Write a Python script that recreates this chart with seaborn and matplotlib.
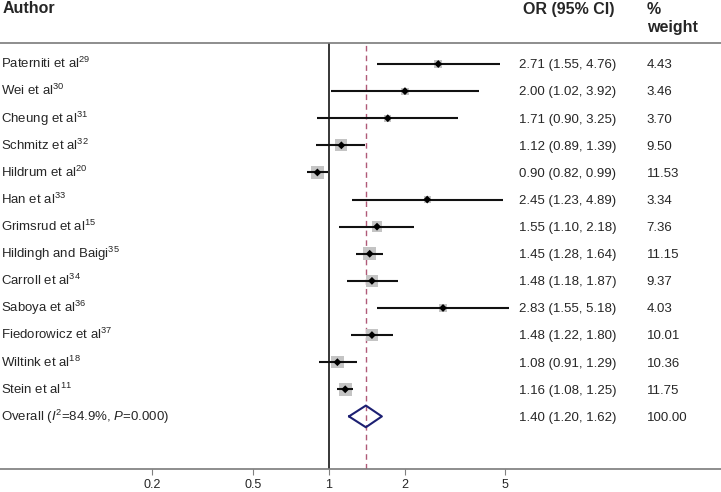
import numpy as np
import pandas as pd
import seaborn as sns
import matplotlib.pyplot as plt
from matplotlib.transforms import blended_transform_factory

# study data
authors = ["Paterniti et al$^{29}$", "Wei et al$^{30}$", "Cheung et al$^{31}$",
           "Schmitz et al$^{32}$", "Hildrum et al$^{20}$", "Han et al$^{33}$",
           "Grimsrud et al$^{15}$", "Hildingh and Baigi$^{35}$", "Carroll et al$^{34}$",
           "Saboya et al$^{36}$", "Fiedorowicz et al$^{37}$", "Wiltink et al$^{18}$",
           "Stein et al$^{11}$"]
or_vals = [2.71, 2.00, 1.71, 1.12, 0.90, 2.45, 1.55, 1.45, 1.48, 2.83, 1.48, 1.08, 1.16]
ci_low = [1.55, 1.02, 0.90, 0.89, 0.82, 1.23, 1.10, 1.28, 1.18, 1.55, 1.22, 0.91, 1.08]
ci_high = [4.76, 3.92, 3.25, 1.39, 0.99, 4.89, 2.18, 1.64, 1.87, 5.18, 1.80, 1.29, 1.25]
weights = [4.43, 3.46, 3.70, 9.50, 11.53, 3.34, 7.36, 11.15, 9.37, 4.03, 10.01, 10.36, 11.75]

overall_label = "Overall ($\\mathit{I}^{2}$=84.9%, $\\mathit{P}$=0.000)"
overall_or = 1.40
overall_low = 1.20
overall_high = 1.62

x_ticks = [0.2, 0.5, 1, 2, 5]

df = pd.DataFrame({"author": authors, "OR": or_vals, "lo": ci_low,
                   "hi": ci_high, "weight": weights})
df["row"] = np.arange(len(df))
df["sq"] = df["weight"] * 7.6
overall_row = len(df)

sns.set_style("white")
plt.rcParams["font.family"] = ["Liberation Sans", "DejaVu Sans"]
plt.rcParams["mathtext.fontset"] = "custom"
plt.rcParams["mathtext.rm"] = "Liberation Sans"
plt.rcParams["mathtext.it"] = "Liberation Sans:italic"

fig = plt.figure(figsize=(7.21, 4.92), dpi=100)
ax = fig.add_axes([0, 23 / 492, 1, 426 / 492])

# weighted grey boxes
sns.scatterplot(data=df, x="OR", y="row", s=df["sq"], marker="s", color="#c4c4c4",
                edgecolor="none", ax=ax, zorder=2, legend=False)
# confidence intervals
ax.hlines(df["row"], df["lo"], df["hi"], color="#111111", lw=1.5, zorder=3)
# point estimates
sns.scatterplot(data=df, x="OR", y="row", marker="D", s=16, color="black",
                edgecolor="none", ax=ax, zorder=4, legend=False)

# pooled diamond
ax.plot([overall_low, overall_or, overall_high, overall_or, overall_low],
        [overall_row, overall_row - 0.4, overall_row, overall_row + 0.4, overall_row],
        color="#1c1f72", lw=1.5, zorder=4)

ax.axvline(1, color="black", lw=1.1, zorder=1)
ax.axvline(overall_or, color="#b05a78", lw=1, ls=(0, (4, 3)), zorder=1)

ax.set_xscale("log")
ax.set_xlim(0.0498, 35.7)
ax.set_ylim(14.94, -0.775)
ax.set_xticks(x_ticks)
ax.set_xticklabels([f"{t:g}" for t in x_ticks], fontsize=9)
ax.minorticks_off()
ax.set_yticks([])
ax.set_xlabel("")
ax.set_ylabel("")
ax.tick_params(axis="x", direction="out", length=4, color="#808080", pad=3, bottom=True)
for side in ["left", "right"]:
    ax.spines[side].set_visible(False)
for side in ["top", "bottom"]:
    ax.spines[side].set_color("#7a7a7a")
    ax.spines[side].set_linewidth(1.2)

# text columns
tr = blended_transform_factory(ax.transAxes, ax.transData)
fs = 9.5
off = 0.16
for _, r in df.iterrows():
    y = r["row"] + off
    ax.text(0.002, y, r["author"], transform=tr, fontsize=fs, va="baseline")
    ax.text(0.72, y, f"{r['OR']:.2f} ({r['lo']:.2f}, {r['hi']:.2f})",
            transform=tr, fontsize=fs, va="baseline")
    ax.text(0.897, y, f"{r['weight']:.2f}", transform=tr, fontsize=fs, va="baseline")
ax.text(0.002, overall_row + off, overall_label, transform=tr, fontsize=fs, va="baseline")
ax.text(0.72, overall_row + off, f"{overall_or:.2f} ({overall_low:.2f}, {overall_high:.2f})",
        transform=tr, fontsize=fs, va="baseline")
ax.text(0.897, overall_row + off, "100.00", transform=tr, fontsize=fs, va="baseline")

# headers
hfs = 11.5
fig.text(0.003, 1 - 13 / 492, "Author", fontsize=hfs, fontweight="bold", va="baseline")
fig.text(0.725, 1 - 14 / 492, "OR (95% CI)", fontsize=hfs, fontweight="bold", va="baseline")
fig.text(0.897, 1 - 14 / 492, "%", fontsize=hfs, fontweight="bold", va="baseline")
fig.text(0.897, 1 - 32 / 492, "weight", fontsize=hfs, fontweight="bold", va="baseline")

plt.savefig("out.png", dpi=100)
